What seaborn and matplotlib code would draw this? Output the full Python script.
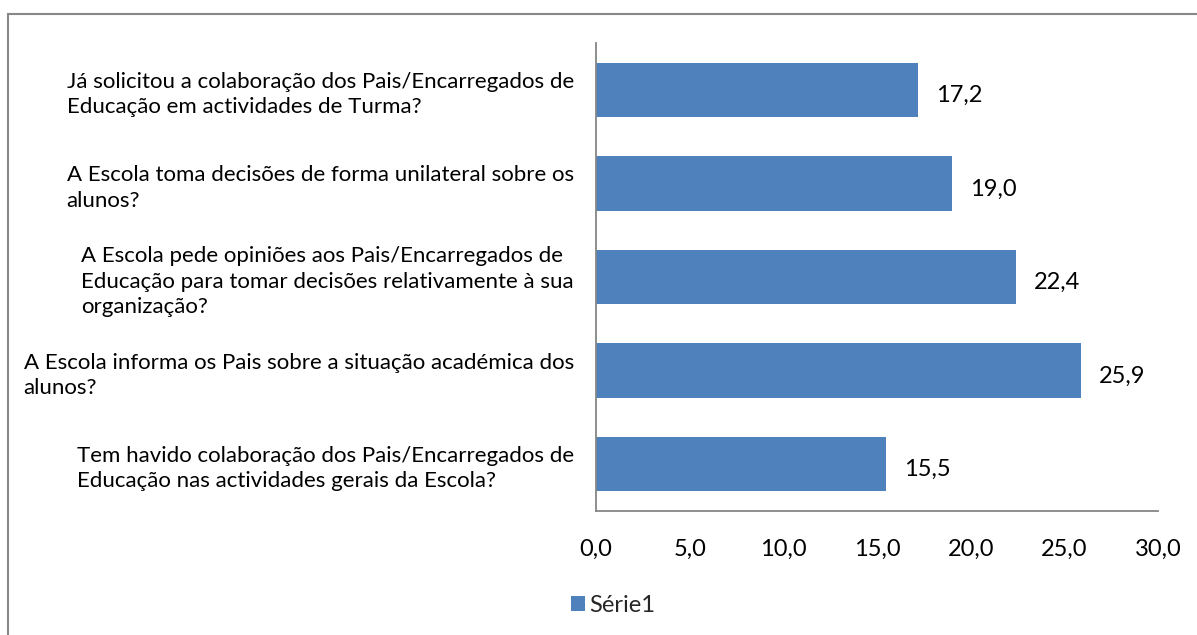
import matplotlib
matplotlib.use("Agg")
import matplotlib.pyplot as plt
from matplotlib.patches import Rectangle, Patch
from matplotlib.ticker import FuncFormatter
import seaborn as sns
import pandas as pd

# ---- data ----
categories = [
    "Já solicitou a colaboração dos Pais/Encarregados de\nEducação em actividades de Turma?",
    "A Escola toma decisões de forma unilateral sobre os\nalunos?",
    "A Escola pede opiniões aos Pais/Encarregados de\nEducação para tomar decisões relativamente à sua\norganização?",
    "A Escola informa os Pais sobre a situação académica dos\nalunos?",
    "Tem havido colaboração dos Pais/Encarregados de\nEducação nas actividades gerais da Escola?",
]
values = [17.2, 19.0, 22.4, 25.9, 15.5]
x_ticks = [0, 5, 10, 15, 20, 25, 30]
series_name = "Série1"

BAR = "#4F81BD"
AXIS = "#868686"

sns.set_theme(style="white")
plt.rcParams["font.family"] = ["Lato", "DejaVu Sans"]
FS_LAB = 16
FS_NUM = 17

df = pd.DataFrame({"cat": categories, "val": values})

W, H = 1197, 635
fig = plt.figure(figsize=(W / 100, H / 100), dpi=100)
ax = fig.add_axes([596 / W, 1 - 511 / H, (1158 - 596) / W, (511 - 43) / H])

sns.barplot(data=df, x="val", y="cat", orient="h", color=BAR, width=0.58,
            linewidth=0, saturation=1, ax=ax)

ax.set_xlim(0, 30)
ax.set_ylim(4.5, -0.5)
ax.set_xticks(x_ticks)
ax.xaxis.set_major_formatter(FuncFormatter(lambda v, p: f"{v:.1f}".replace(".", ",")))
ax.set_xlabel("")
ax.set_ylabel("")

for s in ["top", "right"]:
    ax.spines[s].set_visible(False)
for s in ["left", "bottom"]:
    ax.spines[s].set_color(AXIS)
    ax.spines[s].set_linewidth(1.3)

ax.tick_params(axis="x", length=0, pad=20, labelsize=FS_NUM, colors="black")
ax.tick_params(axis="y", length=0, pad=16, labelsize=FS_LAB, colors="black")
for lab in ax.get_yticklabels():
    lab.set_multialignment("left")
    lab.set_linespacing(1.32)

cont = ax.containers[0]
texts = ax.bar_label(cont, labels=[f"{v:.1f}".replace(".", ",") for v in values],
                     padding=13, fontsize=FS_NUM, color="black")
for t in texts:
    t.xyann = (13, -4)

# legend
fig.legend(handles=[Patch(facecolor=BAR, edgecolor="none")], labels=[series_name],
           loc="center", bbox_to_anchor=(613 / W, 1 - 605 / H), frameon=False,
           fontsize=FS_NUM, handlelength=0.6, handleheight=0.6, handletextpad=0.2,
           borderpad=0)

# outer chart border (extends beyond right and bottom edges)
fig.patches.append(Rectangle((8 / W, -0.1), 1.2, 1 - 13.5 / H + 0.1,
                             transform=fig.transFigure, fill=False,
                             edgecolor="#888888", linewidth=1.5))

fig.savefig("out.png", dpi=100)
